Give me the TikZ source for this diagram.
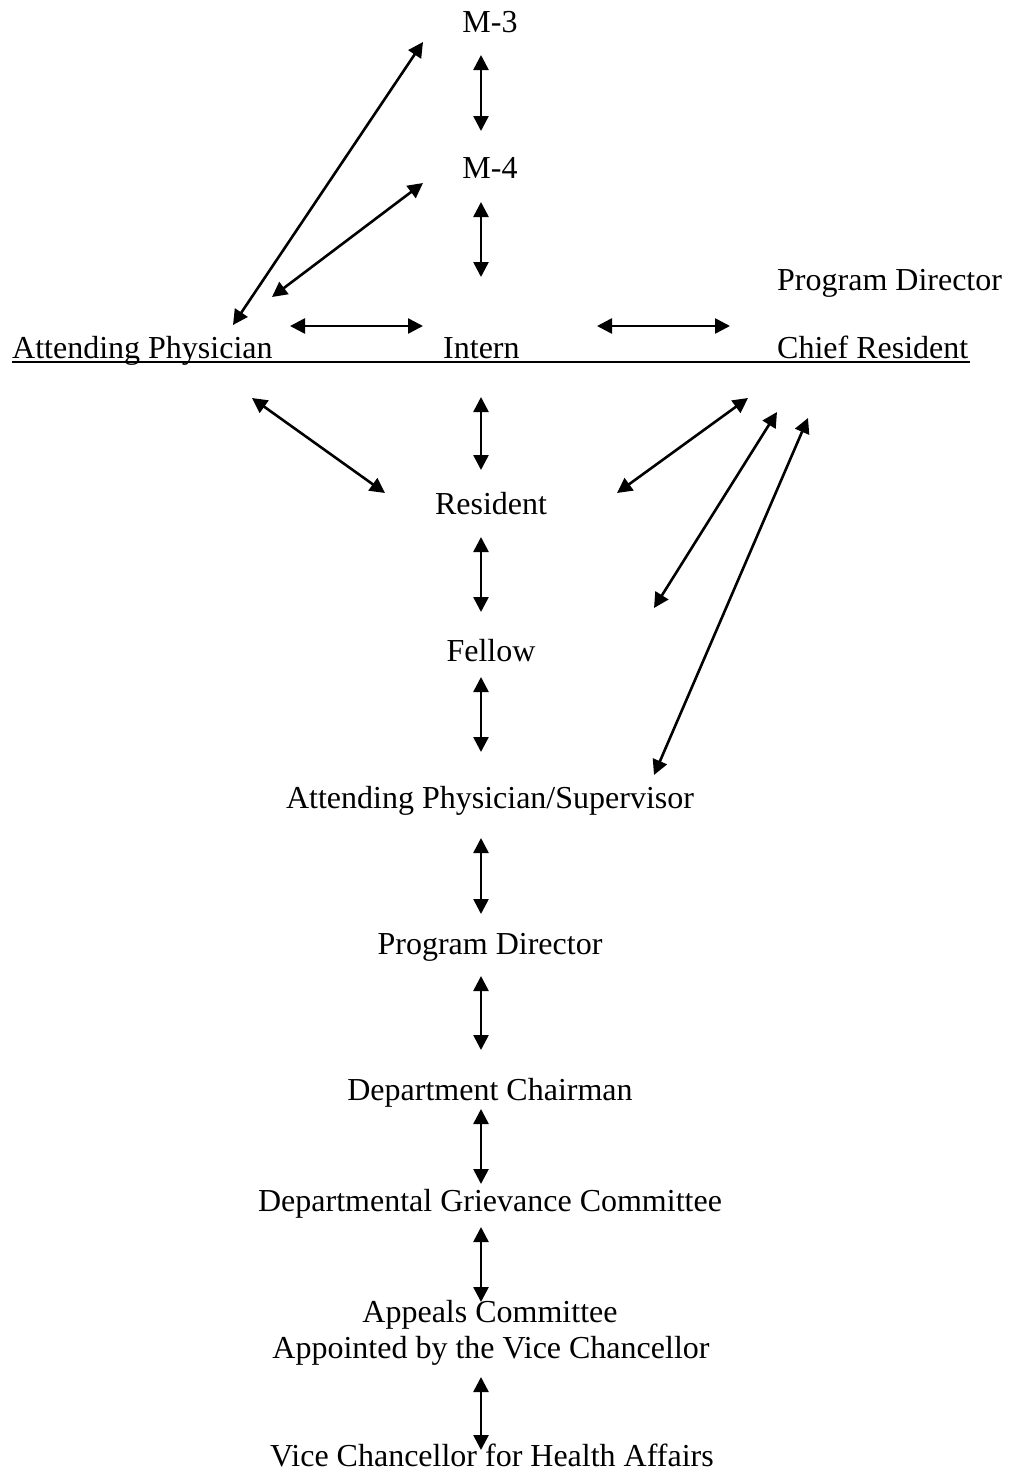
\documentclass[tikz,border=0pt]{standalone}
\usepackage{fontspec}
\setmainfont{Liberation Serif}
\usetikzlibrary{arrows.meta}
\begin{document}
\begin{tikzpicture}[x=1pt,y=-1pt,
  lbl/.style={inner sep=0pt,anchor=base,font=\fontsize{32}{38}\selectfont},
  lblw/.style={lbl,anchor=base west},
  dbl/.style={line width=2.6pt,{Triangle[length=15pt,width=15pt]}-{Triangle[length=15pt,width=15pt]}},
  rule/.style={line width=2.4pt}]
\useasboundingbox[fill=white] (0,0) rectangle (1010,1473);
% labels
\node[lbl] (m3) at (490,32) {M-3};
\node[lbl] (m4) at (490,178) {M-4};
\node[lblw] (pdtop) at (777,290) {Program Director};
\node[lblw] (ap) at (12,358) {Attending Physician};
\node[lblw] (intern) at (443,358) {Intern};
\node[lblw] (cr) at (777,358) {Chief Resident};
\node[lbl] (res) at (491,514) {Resident};
\node[lbl] (fel) at (491,661) {Fellow};
\node[lbl] (aps) at (490,808) {Attending Physician/Supervisor};
\node[lbl] (pd) at (490,954) {Program Director};
\node[lbl] (dc) at (490,1100) {Department Chairman};
\node[lbl] (dgc) at (490,1211) {Departmental Grievance Committee};
\node[lbl] (ac) at (490,1322) {Appeals Committee};
\node[lbl] (avc) at (491,1358) {Appointed by the Vice Chancellor};
\node[lbl] (vc) at (492,1466) {Vice Chancellor for Health Affairs};
% underline
\coordinate (ulA) at (12,362);
\coordinate (ulB) at (970,362);
\draw[rule] (ulA) -- (ulB);
% arrow end points
\coordinate (a1) at (481,55);   \coordinate (b1) at (481,131);
\coordinate (a2) at (481,202);  \coordinate (b2) at (481,277);
\coordinate (a3) at (233,325);  \coordinate (b3) at (423,42);
\coordinate (a4) at (272,297);  \coordinate (b4) at (423,183);
\coordinate (a5) at (290,326);  \coordinate (b5) at (423,326);
\coordinate (a6) at (597,326);  \coordinate (b6) at (730,326);
\coordinate (a7) at (481,397);  \coordinate (b7) at (481,470);
\coordinate (a8) at (252,398);  \coordinate (b8) at (385,493);
\coordinate (a9) at (748,398);  \coordinate (b9) at (617,493);
\coordinate (a10) at (777,412); \coordinate (b10) at (654,608);
\coordinate (a11) at (808,418); \coordinate (b11) at (654,775);
\coordinate (a12) at (481,537); \coordinate (b12) at (481,612);
\coordinate (a13) at (481,677); \coordinate (b13) at (481,752);
\coordinate (a14) at (481,838); \coordinate (b14) at (481,914);
\coordinate (a15) at (481,976); \coordinate (b15) at (481,1050);
\coordinate (a16) at (481,1109);\coordinate (b16) at (481,1184);
\coordinate (a17) at (481,1227);\coordinate (b17) at (481,1302);
\coordinate (a18) at (481,1377);\coordinate (b18) at (481,1450);
\foreach \i in {1,...,18} {\draw[dbl] (a\i) -- (b\i);}
\end{tikzpicture}
\end{document}
